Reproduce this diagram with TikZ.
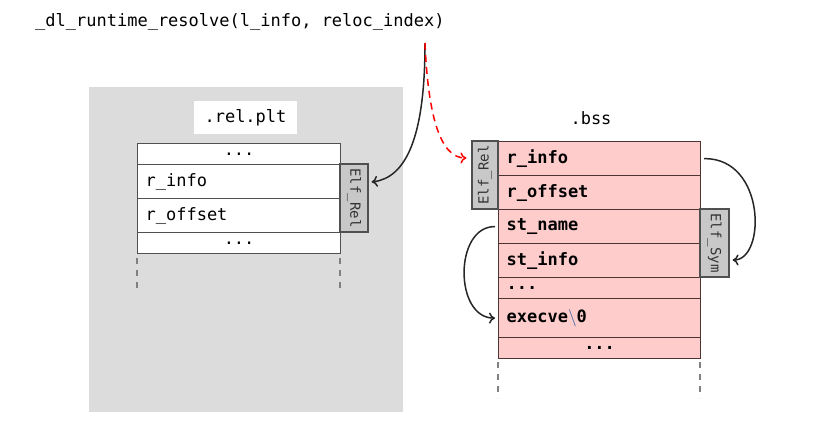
\documentclass[tikz,border=0pt]{standalone}
\usepackage{fontspec}
\usetikzlibrary{arrows.meta}
\newfontfamily\monofont{DejaVu Sans Mono}
\definecolor{bgray}{HTML}{DCDCDC}
\definecolor{elfgray}{HTML}{C8C8C8}
\definecolor{rowpink}{HTML}{FFCCCC}
\definecolor{bordl}{HTML}{505050}
\definecolor{bordr}{HTML}{4A3434}
\definecolor{bslash}{HTML}{2F5FA0}
\begin{document}
\begin{tikzpicture}[x=1pt,y=-1pt,
  txt/.style={font=\monofont\fontsize{17}{20}\selectfont},
  lrow/.style={draw=bordl, line width=1.2pt, fill=white, anchor=north west, inner xsep=8pt, inner ysep=0pt,
     text width=187pt, minimum height=#1, txt},
  rrow/.style={draw=bordr, line width=1.2pt, fill=rowpink, anchor=north west, inner xsep=8pt, inner ysep=0pt,
     text width=186pt, minimum height=#1, font=\monofont\bfseries\fontsize{17}{20}\selectfont},
  elfbox/.style={draw=bordl, line width=1.2pt, fill=elfgray, inner sep=0pt,
     font=\monofont\fontsize{14}{16}\selectfont, text=black!80},
  vdash/.style={draw=gray, line width=1.2pt, dash pattern=on 6pt off 6pt},
  conn/.style={line width=1.5pt, black!85, -{To[length=6pt,width=11pt]}},
  redconn/.style={line width=1.5pt, red, dash pattern=on 7pt off 5pt, -{To[length=6pt,width=11pt]}}
]
\useasboundingbox (0,0) rectangle (827,428);
\fill[bgray] (89,87) rectangle (403,412);

% title
\node[txt, anchor=west, inner sep=0pt] (title) at (35,22) {\_dl\_runtime\_resolve(l\_info, reloc\_index)};
\coordinate (src) at (425,43);

% left section
\node[fill=white, minimum width=103pt, minimum height=33pt, inner sep=0pt, txt] (relplt) at (245.5,117.5) {.rel.plt};
\node[lrow=21pt, align=center] (L0) at (137,143) {...};
\node[lrow=34pt, align=left] (L1) at (137,164) {r\_info};
\node[lrow=34pt, align=left] (L2) at (137,198) {r\_offset};
\node[lrow=21pt, align=center] (L3) at (137,232) {...};
\node[elfbox, minimum width=68pt, minimum height=28pt, rotate=-90] (LE) at (354,198) {Elf\_Rel};
\coordinate (ld1) at (137,258); \coordinate (ld2) at (137,292);
\coordinate (ld3) at (340,258); \coordinate (ld4) at (340,292);
\draw[vdash] (ld1) -- (ld2);
\draw[vdash] (ld3) -- (ld4);

% right section
\node[txt] (bss) at (591,118) {.bss};
\node[rrow=34pt, align=left] (R1) at (498,141) {r\_info};
\node[rrow=34pt, align=left] (R2) at (498,175) {r\_offset};
\node[rrow=34pt, align=left] (R3) at (498,209) {st\_name};
\node[rrow=34pt, align=left] (R4) at (498,243) {st\_info};
\node[rrow=21pt, align=left] (R5) at (498,277) {...};
\node[rrow=39pt, align=left] (R6) at (498,298) {execve{\color{bslash}\normalfont$\backslash$}0};
\node[rrow=21pt, align=center] (R7) at (498,337) {...};
\node[elfbox, minimum width=68pt, minimum height=26pt, rotate=90] (RE) at (485,175) {Elf\_Rel};
\node[elfbox, minimum width=68pt, minimum height=29pt, rotate=-90] (RS) at (714.5,243) {Elf\_Sym};
\coordinate (rd1) at (498,362); \coordinate (rd2) at (498,398);
\coordinate (rd3) at (700,362); \coordinate (rd4) at (700,398);
\draw[vdash] (rd1) -- (rd2);
\draw[vdash] (rd3) -- (rd4);

% connectors
\draw[conn] (src) .. controls (425,140) and (405,178) .. ([xshift=3pt,yshift=16pt]LE.north);
\draw[redconn] (src) .. controls (428,115) and (440,158) .. ([xshift=-5pt,yshift=17pt]RE.north);
\draw[conn] ([xshift=3pt]R1.east) .. controls (766,158) and (766,260) .. ([xshift=3pt,yshift=-17pt]RS.north);
\draw[conn] ([xshift=-3pt]R3.west) .. controls (454,226) and (454,318) .. ([xshift=-3pt]R6.west);
\end{tikzpicture}
\end{document}
